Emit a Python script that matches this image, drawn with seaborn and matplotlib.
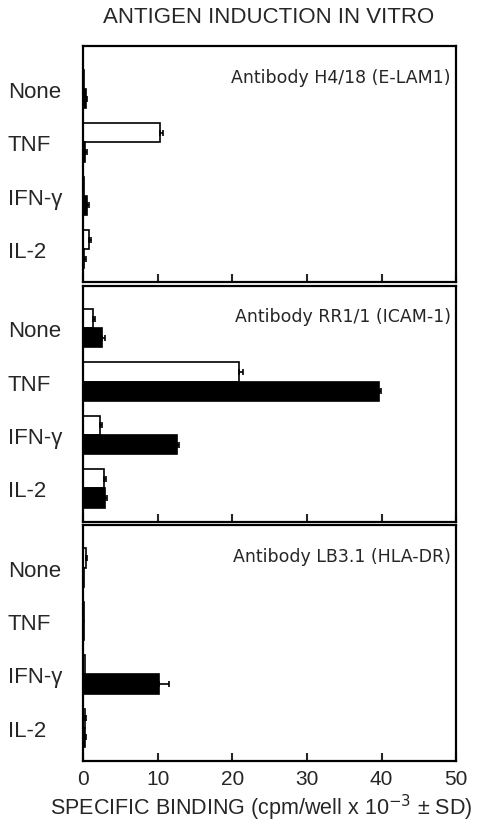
import numpy as np
import pandas as pd
import seaborn as sns
import matplotlib.pyplot as plt

# data (cpm/well x 10^-3)
treatments = ["None", "TNF", "IFN-γ", "IL-2"]
panels = ["Antibody H4/18 (E-LAM1)", "Antibody RR1/1 (ICAM-1)", "Antibody LB3.1 (HLA-DR)"]

elam_open = [0.2, 10.3, 0.2, 0.8]
elam_open_sd = [0.0, 0.4, 0.0, 0.3]
elam_solid = [0.4, 0.3, 0.6, 0.2]
elam_solid_sd = [0.1, 0.3, 0.2, 0.2]

icam_open = [1.3, 20.9, 2.3, 2.8]
icam_open_sd = [0.3, 0.6, 0.3, 0.3]
icam_solid = [2.6, 39.6, 12.6, 3.0]
icam_solid_sd = [0.3, 0.3, 0.2, 0.2]

hla_open = [0.4, 0.1, 0.3, 0.3]
hla_open_sd = [0.2, 0.0, 0.0, 0.1]
hla_solid = [0.2, 0.2, 10.2, 0.3]
hla_solid_sd = [0.0, 0.0, 1.3, 0.1]

series = ["open", "solid"]
colors = {"open": "white", "solid": "black"}

sns.set_theme(style="white")
plt.rcParams["font.family"] = ["Liberation Sans", "DejaVu Sans"]

fig, axes = plt.subplots(3, 1, figsize=(4.97, 8.29), dpi=100, sharex=True)
fig.subplots_adjust(left=0.167, right=0.918, top=0.943, bottom=0.081, hspace=0.014)

panel_data = [
    (elam_open, elam_open_sd, elam_solid, elam_solid_sd),
    (icam_open, icam_open_sd, icam_solid, icam_solid_sd),
    (hla_open, hla_open_sd, hla_solid, hla_solid_sd),
]

for ax, name, (o, o_sd, s, s_sd) in zip(axes, panels, panel_data):
    df = pd.DataFrame({
        "treatment": treatments * 2,
        "series": ["open"] * 4 + ["solid"] * 4,
        "binding": o + s,
    })
    sns.barplot(data=df, y="treatment", x="binding", hue="series",
                order=treatments, hue_order=series, palette=colors,
                orient="h", width=0.72, edgecolor="black", linewidth=1.2,
                errorbar=None, legend=False, ax=ax)
    # one-sided SD bars
    for cont, sd in zip(ax.containers, [o_sd, s_sd]):
        for patch, e in zip(cont.patches, sd):
            if e <= 0:
                continue
            yc = patch.get_y() + patch.get_height() / 2
            ax.errorbar(patch.get_width(), yc, xerr=[[0], [e]], fmt="none",
                        ecolor="black", elinewidth=1.2, capsize=2.5, capthick=1.2)
    ax.set_xlim(0, 50)
    ax.set_ylim(3.62, -0.8)
    ax.set_ylabel("")
    ax.set_xlabel("")
    ax.text(0.985, 0.87, name, transform=ax.transAxes, ha="right", va="center",
            fontsize=12.5, family=["DejaVu Sans"])
    ax.tick_params(axis="y", length=0, labelsize=16, pad=54)
    for lab in ax.get_yticklabels():
        lab.set_horizontalalignment("left")
    ax.tick_params(axis="x", direction="in", length=6, width=1.5, bottom=True,
                   labelsize=15, pad=6)
    for sp in ax.spines.values():
        sp.set_linewidth(1.6)
        sp.set_color("black")

axes[-1].set_xticks([0, 10, 20, 30, 40, 50])

fig.text(0.54, 0.979, "ANTIGEN INDUCTION IN VITRO", ha="center", va="center",
         fontsize=16)
fig.text(0.1, 0.025, "SPECIFIC BINDING (cpm/well x 10$^{-3}$ ± SD)",
         ha="left", va="center", fontsize=15.5)

fig.savefig("out.png", dpi=100)
